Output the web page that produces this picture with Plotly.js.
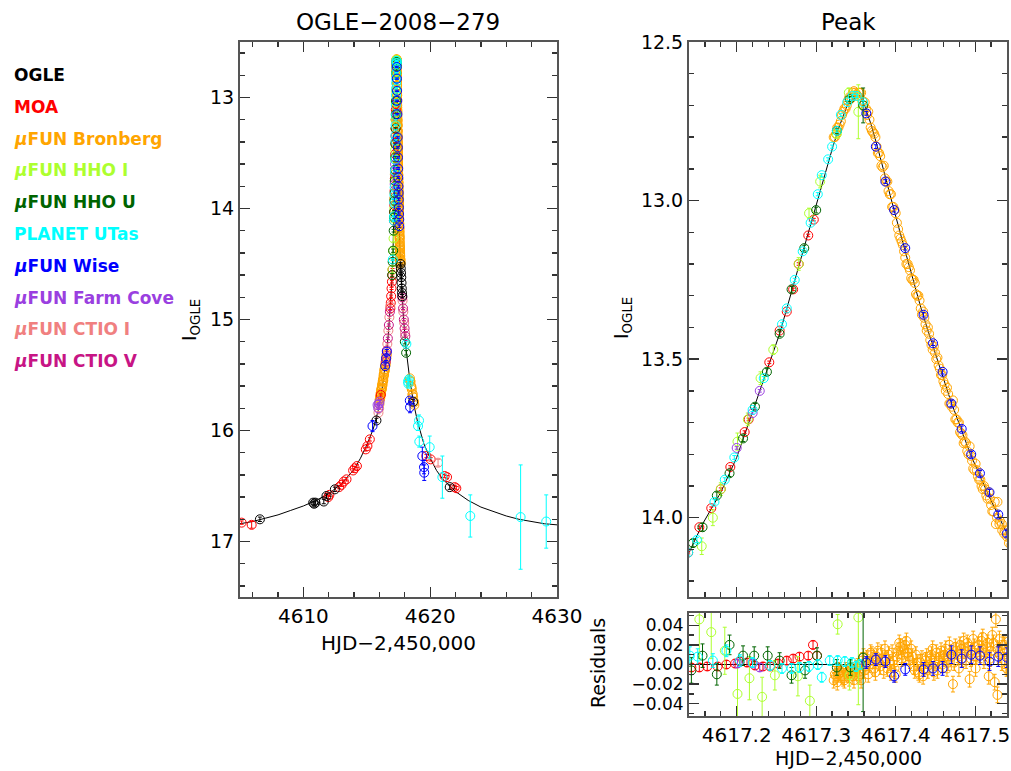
<!DOCTYPE html>
<html>
<head>
<meta charset="utf-8">
<script src="https://cdn.plot.ly/plotly-3.0.1.min.js"></script>
<style>html,body{margin:0;padding:0;background:#fff;}#chart{width:1011px;height:771px;}</style>
</head>
<body>
<div id="chart"></div>
<script>
// ---------------- DATA ----------------
// Model light curve
const model_t = [4605.0,4606.0,4607.0,4608.0,4609.0,4610.0,4611.0,4612.0,4613.0,4614.0,4614.5,4615.0,4615.5,4615.9,4616.2,4616.5,4616.7,4616.85,4616.95,4617.05,4617.10,4617.14,4617.157,4617.18,4617.20,4617.229,4617.254,4617.28,4617.298,4617.31,4617.321,4617.33,4617.339,4617.349,4617.355,4617.361,4617.369,4617.377,4617.389,4617.399,4617.412,4617.433,4617.447,4617.469,4617.494,4617.517,4617.540,4617.58,4617.65,4617.75,4617.9,4618.1,4618.4,4618.7,4619.0,4619.5,4620.0,4620.5,4621.0,4622.0,4623.0,4624.0,4625.0,4626.0,4627.0,4628.0,4629.0,4630.0];
const model_mag = [16.84,16.82,16.79,16.76,16.72,16.68,16.63,16.57,16.48,16.35,16.25,16.13,15.99,15.82,15.63,15.37,15.13,14.90,14.71,14.47,14.27,14.11,14.02,13.92,13.81,13.60,13.42,13.19,13.03,12.92,12.83,12.76,12.70,12.67,12.67,12.70,12.76,12.83,12.94,13.04,13.16,13.35,13.46,13.63,13.80,13.93,14.05,14.24,14.48,14.74,15.00,15.27,15.55,15.76,15.92,16.12,16.25,16.36,16.44,16.55,16.63,16.69,16.73,16.77,16.80,16.82,16.84,16.85];
const resid_zero_t = [4617.0, 4618.0];
const resid_zero = [0, 0];

// OGLE
const ogle_t = [4606.57,4610.77,4610.85,4610.95,4611.61,4611.82,4612.48,4615.76,4617.66,4617.68,4617.70,4617.72,4617.74,4617.76,4617.78,4617.80,4618.65,4621.54];
const ogle_mag = [16.80,16.65,16.66,16.65,16.64,16.59,16.53,15.91,14.50,14.54,14.58,14.62,14.67,14.72,14.76,14.79,15.74,16.51];
const ogle_err = [0.02,0.015,0.015,0.015,0.02,0.02,0.02,0.02,0.015,0.015,0.015,0.015,0.015,0.015,0.015,0.015,0.02,0.02];

// MOA
const moa_t = [4605.13,4605.92,4611.96,4612.05,4612.82,4613.00,4613.19,4613.40,4613.92,4614.05,4614.22,4614.92,4615.05,4615.24,4616.10,4616.86,4616.89,4616.92,4616.95,4616.98,4617.01,4617.03,4617.139,4617.153,4617.168,4617.180,4617.192,4617.210,4617.215,4617.241,4617.254,4617.263,4617.271,4617.278,4617.290,4617.297,4619.70,4620.04,4621.14,4621.33,4621.93,4622.06];
const moa_mag = [16.83,16.85,16.60,16.58,16.51,16.49,16.46,16.44,16.36,16.34,16.32,16.17,16.14,16.08,15.68,14.90,14.85,14.79,14.72,14.66,14.60,14.55,14.11,14.03,13.97,13.91,13.84,13.73,13.69,13.51,13.41,13.35,13.28,13.20,13.11,13.06,16.23,16.26,16.41,16.42,16.51,16.52];
const moa_err = [0.015,0.03,0.015,0.015,0.015,0.015,0.015,0.015,0.015,0.015,0.015,0.015,0.015,0.015,0.01,0.01,0.01,0.01,0.01,0.01,0.01,0.01,0.004,0.004,0.004,0.004,0.004,0.004,0.004,0.004,0.004,0.004,0.004,0.004,0.004,0.004,0.015,0.015,0.015,0.015,0.015,0.015];
const moa_rt = [4617.143,4617.153,4617.163,4617.176,4617.187,4617.198,4617.204,4617.213,4617.223,4617.233,4617.242,4617.252,4617.263,4617.271,4617.279,4617.290,4617.296,4617.301];
const moa_res = [-0.003,-0.003,-0.002,-0.002,0.000,0.001,0.003,0.002,-0.001,-0.002,-0.002,0.001,0.004,0.006,0.008,0.009,0.020,0.009];
const moa_rerr = [0.004,0.004,0.004,0.004,0.004,0.004,0.004,0.004,0.004,0.004,0.004,0.004,0.004,0.004,0.004,0.004,0.004,0.004];

// muFUN Bronberg (first set)
const bron_t = [4616.00,4616.03,4616.06,4616.09,4616.12,4616.15,4616.18,4616.21,4616.24,4616.27,4616.30,4616.33,4616.36,4616.39,4616.42,4616.45,4616.48,4616.51,4616.54,4616.57,
4617.322,4617.325,4617.328,4617.331,4617.334,4617.337,4617.340,4617.343,4617.346,4617.349,4617.352,4617.355,4617.358,4617.361,4617.364,4617.367,4617.370,4617.373,4617.376,4617.379,4617.382,4617.385,4617.388,4617.391,4617.394,4617.397,4617.400,4617.403,4617.406,4617.409,4617.412,4617.415,4617.418,4617.421,4617.424,4617.427,4617.430,4617.433,4617.436,4617.439,4617.442,4617.445,4617.448,4617.451,4617.454,4617.457,4617.460,4617.463,4617.466,4617.469,4617.472,4617.475,4617.478,4617.481,4617.484,4617.487,4617.490,4617.493,4617.496,4617.499,4617.502,4617.505,4617.508,4617.511,4617.514,4617.517,4617.520,4617.523,4617.526,4617.528,4617.531,4617.534,4617.537,4617.540,4617.543,
4617.548,4617.552,4617.556,4617.560,4617.564,4617.568,4617.572,4617.576,4617.580,4617.585,4617.590,4617.595,4617.600,4617.605,4617.610,4617.615,4617.620,4617.625,4617.630,4617.635,4617.640,4617.645,4617.650,4617.655,4617.660,
4618.40,4618.45,4618.50,4618.55,4618.60,4618.65,4618.70,4618.75];
const bron_mag = [15.76,15.72,15.71,15.67,15.67,15.63,15.63,15.59,15.59,15.55,15.55,15.50,15.50,15.45,15.46,15.41,15.41,15.36,15.35,15.31,
12.80,12.79,12.77,12.75,12.72,12.71,12.685,12.68,12.66,12.66,12.67,12.66,12.685,12.69,12.73,12.745,12.78,12.79,12.83,12.85,12.89,12.89,12.94,12.97,12.98,13.02,13.04,13.09,13.12,13.14,13.18,13.20,13.22,13.25,13.26,13.30,13.315,13.36,13.37,13.41,13.42,13.455,13.46,13.50,13.52,13.55,13.57,13.60,13.61,13.64,13.63,13.69,13.70,13.73,13.74,13.76,13.79,13.775,13.82,13.85,13.85,13.88,13.90,13.90,13.93,13.92,13.96,13.98,14.02,13.95,14.01,14.04,14.04,14.06,14.06,
14.09,14.10,14.13,14.14,14.17,14.18,14.21,14.22,14.24,14.26,14.28,14.30,14.31,14.34,14.35,14.37,14.38,14.40,14.42,14.43,14.45,14.46,14.48,14.49,14.50,
15.53,15.56,15.60,15.63,15.68,15.70,15.75,15.77];
const bron_rt = [4617.322,4617.325,4617.328,4617.331,4617.334,4617.337,4617.340,4617.343,4617.346,4617.349,4617.352,4617.355,4617.358,4617.361,4617.364,4617.367,4617.370,4617.373,4617.376,4617.379,4617.382,4617.385,4617.388,4617.391,4617.394,4617.397,4617.400,4617.403,4617.406,4617.409,4617.412,4617.415,4617.418,4617.421,4617.424,4617.427,4617.430,4617.433,4617.436,4617.439,4617.442,4617.445,4617.448,4617.451,4617.454,4617.457,4617.460,4617.463,4617.466,4617.469,4617.472,4617.475,4617.478,4617.481,4617.484,4617.487,4617.490,4617.493,4617.496,4617.499,4617.502,4617.505,4617.508,4617.511,4617.514,4617.517,4617.520,4617.523,4617.526,4617.528,4617.531,4617.534,4617.537,4617.540,4617.543];
const bron_res = [-0.016,-0.012,-0.010,-0.008,-0.014,-0.006,-0.010,-0.004,-0.012,-0.008,-0.002,-0.010,0.004,-0.006,0.006,0.000,0.010,-0.004,0.008,0.002,0.012,-0.006,0.006,0.010,-0.008,0.004,-0.010,0.014,0.018,0.010,0.020,0.012,0.004,0.008,-0.006,0.002,-0.010,0.006,-0.004,0.008,0.000,0.010,-0.008,0.012,0.004,0.014,0.006,0.016,0.002,0.012,-0.020,0.018,0.010,0.020,0.006,0.014,0.022,-0.015,0.012,0.018,0.008,0.016,0.024,0.004,0.018,-0.012,0.014,0.022,0.046,-0.031,0.010,0.020,0.004,0.014,-0.008];

// muFUN Bronberg (second, interleaved set)
const bron2_t = [4616.015,4616.045,4616.075,4616.105,4616.135,4616.165,4616.195,4616.225,4616.255,4616.285,4616.315,4616.345,4616.375,4616.405,4616.435,4616.465,4616.495,4616.525,4616.555,
4617.3235,4617.3265,4617.3295,4617.3325,4617.3355,4617.3385,4617.3415,4617.3445,4617.3475,4617.3505,4617.3535,4617.3565,4617.3595,4617.3625,4617.3655,4617.3685,4617.3715,4617.3745,4617.3775,4617.3805,4617.3835,4617.3865,4617.3895,4617.3925,4617.3955,4617.3985,4617.4015,4617.4045,4617.4075,4617.4105,4617.4135,4617.4165,4617.4195,4617.4225,4617.4255,4617.4285,4617.4315,4617.4345,4617.4375,4617.4405,4617.4435,4617.4465,4617.4495,4617.4525,4617.4555,4617.4585,4617.4615,4617.4645,4617.4675,4617.4705,4617.4735,4617.4765,4617.4795,4617.4825,4617.4855,4617.4885,4617.4915,4617.4945,4617.4975,4617.5005,4617.5035,4617.5065,4617.5095,4617.5125,4617.5155,4617.5185,4617.5215,4617.5245,4617.5275,4617.5305,4617.5335,4617.5365,4617.5395,4617.5425,4617.5455,
4617.550,4617.558,4617.566,4617.574,4617.582,4617.592,4617.602,4617.612,4617.622,4617.632,4617.642,4617.652,
4618.42,4618.52,4618.62,4618.72];
const bron2_mag = [15.72,15.70,15.69,15.66,15.64,15.62,15.61,15.58,15.56,15.54,15.52,15.49,15.47,15.45,15.42,15.40,15.38,15.35,15.32,
12.80,12.77,12.76,12.73,12.71,12.70,12.675,12.675,12.655,12.665,12.66,12.66,12.70,12.71,12.72,12.77,12.785,12.80,12.85,12.86,12.895,12.93,12.94,12.98,13.02,13.03,13.07,13.11,13.13,13.16,13.20,13.21,13.245,13.25,13.295,13.30,13.34,13.35,13.39,13.40,13.44,13.47,13.48,13.495,13.53,13.55,13.58,13.59,13.64,13.65,13.66,13.69,13.70,13.735,13.765,13.765,13.80,13.805,13.845,13.83,13.87,13.88,13.91,13.91,13.94,13.94,13.98,13.95,14.00,14.02,14.02,14.05,14.04,14.08,14.085,
14.11,14.14,14.18,14.20,14.25,14.27,14.33,14.36,14.40,14.41,14.46,14.47,
15.55,15.61,15.67,15.74];
const bron2_rt = [4617.3235,4617.3265,4617.3295,4617.3325,4617.3355,4617.3385,4617.3415,4617.3445,4617.3475,4617.3505,4617.3535,4617.3565,4617.3595,4617.3625,4617.3655,4617.3685,4617.3715,4617.3745,4617.3775,4617.3805,4617.3835,4617.3865,4617.3895,4617.3925,4617.3955,4617.3985,4617.4015,4617.4045,4617.4075,4617.4105,4617.4135,4617.4165,4617.4195,4617.4225,4617.4255,4617.4285,4617.4315,4617.4345,4617.4375,4617.4405,4617.4435,4617.4465,4617.4495,4617.4525,4617.4555,4617.4585,4617.4615,4617.4645,4617.4675,4617.4705,4617.4735,4617.4765,4617.4795,4617.4825,4617.4855,4617.4885,4617.4915,4617.4945,4617.4975,4617.5005,4617.5035,4617.5065,4617.5095,4617.5125,4617.5155,4617.5185,4617.5215,4617.5245,4617.5275,4617.5305,4617.5335,4617.5365,4617.5395,4617.5425,4617.5455];
const bron2_res = [-0.010,-0.018,-0.006,-0.012,-0.016,-0.008,-0.014,-0.006,-0.016,-0.004,-0.012,-0.016,0.008,-0.002,-0.010,0.012,0.004,-0.008,0.014,-0.002,0.006,0.016,-0.004,0.002,0.012,-0.004,0.008,0.022,0.006,0.016,0.024,0.008,0.016,-0.002,0.010,-0.008,0.002,-0.012,0.004,-0.006,0.006,0.016,0.002,-0.006,0.008,0.000,0.010,-0.004,0.020,0.008,0.002,0.014,-0.004,0.016,0.024,0.004,0.018,0.006,0.026,-0.004,0.020,0.010,0.028,0.012,0.022,0.006,0.030,-0.018,0.016,0.026,0.002,0.020,-0.004,0.024,0.010];

// muFUN HHO I
const hhoi_t = [4617.02,4617.07,4617.11,4617.156,4617.170,4617.180,4617.201,4617.214,4617.230,4617.246,4617.278,4617.291,4617.305,4617.326,4617.341,4617.353];
const hhoi_mag = [14.55,14.38,14.27,14.09,14.00,13.91,13.76,13.69,13.56,13.47,13.20,13.04,12.94,12.79,12.66,12.72];
const hhoi_err = [0.03,0.03,0.03,0.026,0.025,0.02,0.027,0.02,0.02,0.015,0.02,0.016,0.02,0.01,0.015,0.085];
const hhoi_rt = [4617.153,4617.168,4617.185,4617.201,4617.216,4617.232,4617.248,4617.277,4617.292,4617.327,4617.342,4617.353];
const hhoi_res = [0.046,0.033,0.014,-0.030,-0.014,-0.033,-0.011,-0.012,-0.037,0.041,-0.011,0.048];
const hhoi_rerr = [0.04,0.027,0.024,0.027,0.022,0.02,0.015,0.02,0.016,0.01,0.015,0.089];

// muFUN HHO U
const hhou_t = [4617.00,4617.04,4617.08,4617.12,4617.145,4617.157,4617.175,4617.191,4617.208,4617.223,4617.238,4617.254,4617.269,4617.285,4617.300,4617.326,4617.342,4617.359,4618.00,4618.10];
const hhou_mag = [14.60,14.48,14.38,14.20,14.08,14.03,13.93,13.86,13.75,13.65,13.54,13.42,13.28,13.15,13.03,12.78,12.68,12.70,15.20,15.30];
const hhou_err = [0.015,0.015,0.015,0.012,0.012,0.012,0.011,0.01,0.01,0.01,0.01,0.009,0.009,0.009,0.009,0.008,0.008,0.055,0.02,0.02];
const hhou_rt = [4617.143,4617.157,4617.175,4617.191,4617.208,4617.222,4617.239,4617.254,4617.269,4617.286,4617.301,4617.326,4617.343,4617.359];
const hhou_res = [-0.006,0.009,-0.010,0.020,0.009,0.009,0.009,0.004,-0.011,-0.006,0.009,-0.003,-0.003,0.007];
const hhou_rerr = [0.013,0.012,0.011,0.01,0.01,0.009,0.009,0.008,0.008,0.008,0.008,0.008,0.008,0.055];

// PLANET UTas
const utas_t = [4617.05,4617.139,4617.150,4617.172,4617.185,4617.197,4617.220,4617.234,4617.257,4617.263,4617.273,4617.283,4617.293,4617.302,4617.307,4617.315,4617.320,4617.326,4617.331,4617.339,4617.346,4617.351,4617.359,4618.12,4618.25,4618.28,4618.31,4619.04,4619.12,4619.14,4619.96,4620.96,4623.16,4627.13,4629.15];
const utas_mag = [14.46,14.11,14.07,13.95,13.88,13.81,13.66,13.56,13.39,13.34,13.25,13.16,13.07,12.98,12.92,12.87,12.83,12.78,12.73,12.69,12.67,12.67,12.69,15.22,15.56,15.58,15.54,15.96,15.91,16.10,16.15,16.42,16.77,16.78,16.82];
const utas_err = [0.01,0.008,0.008,0.007,0.006,0.006,0.005,0.005,0.005,0.005,0.005,0.005,0.005,0.005,0.005,0.005,0.005,0.005,0.005,0.005,0.005,0.005,0.005,0.02,0.03,0.03,0.03,0.04,0.05,0.05,0.10,0.19,0.19,0.47,0.24];
const utas_rt = [4617.141,4617.151,4617.170,4617.187,4617.204,4617.220,4617.242,4617.257,4617.269,4617.279,4617.291,4617.302,4617.307,4617.317,4617.327,4617.336,4617.345,4617.350,4617.355];
const utas_res = [0.009,0.008,0.004,0.014,0.004,0.002,-0.001,-0.004,-0.004,-0.003,-0.002,0.000,-0.013,0.004,0.004,0.003,0.002,-0.002,0.000];
const utas_rerr = [0.009,0.008,0.007,0.006,0.006,0.005,0.005,0.005,0.005,0.005,0.005,0.005,0.005,0.005,0.005,0.005,0.005,0.005,0.005];

// muFUN Wise
const wise_t = [4615.45,4616.45,4616.52,4616.58,4617.363,4617.375,4617.387,4617.398,4617.412,4617.435,4617.447,4617.459,4617.470,4617.483,4617.495,4617.506,4617.518,4617.529,4617.540,4617.552,4617.564,4618.39,4618.41,4619.38,4619.51,4619.53];
const wise_mag = [15.96,15.42,15.35,15.29,12.725,12.83,12.94,13.03,13.15,13.36,13.45,13.54,13.64,13.72,13.80,13.86,13.92,13.99,14.05,14.10,14.16,15.73,15.79,16.23,16.33,16.38];
const wise_err = [0.05,0.02,0.02,0.02,0.006,0.006,0.006,0.006,0.006,0.007,0.007,0.007,0.009,0.009,0.009,0.009,0.009,0.01,0.01,0.01,0.01,0.02,0.05,0.08,0.06,0.07];
const wise_rt = [4617.363,4617.375,4617.387,4617.398,4617.412,4617.435,4617.447,4617.459,4617.470,4617.483,4617.495,4617.506,4617.518,4617.529,4617.540];
const wise_res = [0.002,0.005,0.003,-0.012,-0.005,-0.005,-0.004,-0.004,0.010,0.006,0.010,0.009,0.003,0.008,0.007];
const wise_rerr = [0.006,0.006,0.006,0.006,0.006,0.007,0.007,0.007,0.009,0.009,0.009,0.009,0.009,0.01,0.01];

// muFUN Farm Cove
const farm_t = [4615.85,4615.90,4615.95,4616.00,4617.200,4617.220,4617.229];
const farm_mag = [15.77,15.80,15.76,15.74,13.78,13.67,13.60];
const farm_err = [0.01,0.01,0.01,0.01,0.004,0.004,0.004];
const farm_rt = [4617.201,4617.220,4617.229];
const farm_res = [0.001,0.001,-0.003];
const farm_rerr = [0.004,0.004,0.004];

// muFUN CTIO I
const ctioi_t = [4615.92,4615.97,4616.55,4616.62,4616.70,4616.78,4616.85,4617.82,4617.88,4617.95,4618.02,4620.62];
const ctioi_mag = [15.84,15.80,15.33,15.22,15.10,14.98,14.88,14.83,14.93,15.03,15.12,16.29];
const ctioi_err = [0.01,0.01,0.01,0.01,0.01,0.01,0.01,0.01,0.01,0.01,0.01,0.03];

// muFUN CTIO V
const ctiov_t = [4616.50,4616.58,4616.66,4616.74,4616.82,4617.80,4617.86,4617.92,4617.98,4618.04];
const ctiov_mag = [15.38,15.28,15.17,15.05,14.93,14.80,14.90,15.00,15.08,15.15];
const ctiov_err = [0.01,0.01,0.01,0.01,0.01,0.01,0.01,0.01,0.01,0.01];

// tick values
const leftXTicks = [4610, 4620, 4630];
const leftYTicks = [13, 14, 15, 16, 17];
const peakYTicks = [12.5, 13.0, 13.5, 14.0];
const peakXTicks = [4617.2, 4617.3, 4617.4, 4617.5];
const residYTicks = [-0.04, -0.02, 0.00, 0.02, 0.04];

// ---------------- STYLE ----------------
const FONT = 'DejaVu Sans';
const series = [
  {name:'μFUN Bronberg', legend:'<i>μ</i>FUN Bronberg', color:'#FFA500', t:bron_t.concat(bron2_t), m:bron_mag.concat(bron2_mag), e:null, rt:bron_rt.concat(bron2_rt), r:bron_res.concat(bron2_res), re:null, legendIdx:2},
  {name:'MOA', legend:'MOA', color:'#FF0000', t:moa_t, m:moa_mag, e:moa_err, rt:moa_rt, r:moa_res, re:moa_rerr, legendIdx:1},
  {name:'μFUN HHO I', legend:'<i>μ</i>FUN HHO I', color:'#ADFF2F', t:hhoi_t, m:hhoi_mag, e:hhoi_err, rt:hhoi_rt, r:hhoi_res, re:hhoi_rerr, legendIdx:3},
  {name:'μFUN HHO U', legend:'<i>μ</i>FUN HHO U', color:'#006400', t:hhou_t, m:hhou_mag, e:hhou_err, rt:hhou_rt, r:hhou_res, re:hhou_rerr, legendIdx:4},
  {name:'μFUN CTIO I', legend:'<i>μ</i>FUN CTIO I', color:'#F08080', t:ctioi_t, m:ctioi_mag, e:ctioi_err, legendIdx:8},
  {name:'μFUN CTIO V', legend:'<i>μ</i>FUN CTIO V', color:'#C71585', t:ctiov_t, m:ctiov_mag, e:ctiov_err, legendIdx:9},
  {name:'μFUN Farm Cove', legend:'<i>μ</i>FUN Farm Cove', color:'#9A3FE0', t:farm_t, m:farm_mag, e:farm_err, rt:farm_rt, r:farm_res, re:farm_rerr, legendIdx:7},
  {name:'OGLE', legend:'OGLE', color:'#000000', t:ogle_t, m:ogle_mag, e:ogle_err, legendIdx:0},
  {name:'PLANET UTas', legend:'PLANET UTas', color:'#00FFFF', t:utas_t, m:utas_mag, e:utas_err, rt:utas_rt, r:utas_res, re:utas_rerr, legendIdx:5},
  {name:'μFUN Wise', legend:'<i>μ</i>FUN Wise', color:'#0000FF', t:wise_t, m:wise_mag, e:wise_err, rt:wise_rt, r:wise_res, re:wise_rerr, legendIdx:6}
];

const traces = [];
function modelTrace(xa, ya, x, y) {
  return {x:x, y:y, xaxis:xa, yaxis:ya, mode:'lines', line:{color:'#000', width:1}, showlegend:false, hoverinfo:'skip'};
}
traces.push(modelTrace('x','y',model_t,model_mag));
traces.push(modelTrace('x2','y2',model_t,model_mag));
traces.push(modelTrace('x3','y3',resid_zero_t,resid_zero));

function dataTrace(s, xa, ya, x, y, e) {
  const tr = {x:x, y:y, xaxis:xa, yaxis:ya, mode:'markers', name:s.name, showlegend:false,
    marker:{symbol:'circle-open', size:9, color:s.color, line:{width:1, color:s.color}}};
  if (e) tr.error_y = {type:'data', array:e, visible:true, color:s.color, thickness:1, width:2};
  return tr;
}
series.forEach(s => {
  traces.push(dataTrace(s,'x','y',s.t,s.m,s.e));
  traces.push(dataTrace(s,'x2','y2',s.t,s.m,s.e));
});
series.forEach(s => {
  if (s.rt) traces.push(dataTrace(s,'x3','y3',s.rt,s.r,s.re || s.r.map(()=>0.008)));
});

const W = 1011, H = 771;
const px = v => v / W;
const py = v => 1 - v / H;

const axCommon = {showgrid:false, zeroline:false, showline:true, linecolor:'#555', linewidth:2, mirror:'allticks',
  ticks:'inside', ticklen:10, tickwidth:1.3, tickcolor:'#333', tickfont:{family:FONT, size:19, color:'#000'}};

const layout = {
  width:W, height:H, margin:{l:0, r:0, t:0, b:0}, paper_bgcolor:'#fff', plot_bgcolor:'#fff',
  font:{family:FONT, color:'#000'},
  showlegend:false,
  xaxis: Object.assign({}, axCommon, {domain:[px(240), px(557)], range:[4605, 4630], anchor:'y',
    tickmode:'array', tickvals:leftXTicks, ticktext:leftXTicks.map(String), tickfont:{family:FONT, size:20, color:'#000'},
    minor:{dtick:2, tick0:4600, ticks:'inside', ticklen:5, tickcolor:'#333', showgrid:false}}),
  yaxis: Object.assign({}, axCommon, {domain:[1-597/H, 1-42/H], range:[17.5, 12.5], anchor:'x',
    tickmode:'array', tickvals:leftYTicks, ticktext:leftYTicks.map(String),
    minor:{dtick:0.2, tick0:12, ticks:'inside', ticklen:5, tickcolor:'#333', showgrid:false}}),
  xaxis2: Object.assign({}, axCommon, {domain:[px(689), px(1007)], range:[4617.14, 4617.54], anchor:'y2',
    tickmode:'array', tickvals:peakXTicks, showticklabels:false,
    minor:{dtick:0.02, tick0:4617, ticks:'inside', ticklen:5, tickcolor:'#333', showgrid:false}}),
  yaxis2: Object.assign({}, axCommon, {domain:[1-597/H, 1-42/H], range:[14.25, 12.5], anchor:'x2',
    tickmode:'array', tickvals:peakYTicks, ticktext:peakYTicks.map(v=>v.toFixed(1)),
    minor:{dtick:0.1, tick0:12, ticks:'inside', ticklen:5, tickcolor:'#333', showgrid:false}}),
  xaxis3: Object.assign({}, axCommon, {domain:[px(689), px(1007)], range:[4617.14, 4617.54], anchor:'y3',
    tickmode:'array', tickvals:peakXTicks, ticktext:peakXTicks.map(v=>v.toFixed(1)), tickfont:{family:FONT, size:20, color:'#000'},
    minor:{dtick:0.02, tick0:4617, ticks:'inside', ticklen:5, tickcolor:'#333', showgrid:false}}),
  yaxis3: Object.assign({}, axCommon, {domain:[1-716/H, 1-613/H], range:[-0.0525, 0.0525], anchor:'x3',
    tickmode:'array', tickvals:residYTicks, ticktext:residYTicks.map(v=>(v<0?'−':'')+Math.abs(v).toFixed(2)),
    tickfont:{family:FONT, size:17, color:'#000'},
    minor:{dtick:0.01, tick0:0, ticks:'inside', ticklen:5, tickcolor:'#333', showgrid:false}}),
  annotations: []
};

function ann(text, x, y, opts) {
  return Object.assign({text:text, xref:'paper', yref:'paper', x:px(x), y:py(y), showarrow:false,
    xanchor:'center', yanchor:'middle', font:{family:FONT, size:19, color:'#000'}}, opts||{});
}
layout.annotations.push(ann('OGLE−2008−279', 398, 22, {font:{family:FONT, size:23, color:'#000'}}));
layout.annotations.push(ann('Peak', 848, 22, {font:{family:FONT, size:23, color:'#000'}}));
layout.annotations.push(ann('HJD−2,450,000', 398, 643, {font:{family:FONT, size:20, color:'#000'}}));
layout.annotations.push(ann('HJD−2,450,000', 848, 758, {font:{family:FONT, size:19, color:'#000'}}));
layout.annotations.push(ann('I<sub>OGLE</sub>', 190, 320, {textangle:-90}));
layout.annotations.push(ann('I<sub>OGLE</sub>', 622, 318, {textangle:-90}));
layout.annotations.push(ann('Residuals', 598, 663, {textangle:-90}));

series.forEach(s => {
  layout.annotations.push(ann('<b>'+s.legend+'</b>', 12, 75 + s.legendIdx*31.8,
    {xanchor:'left', font:{family:FONT, size:17, color:s.color}}));
});

Plotly.newPlot('chart', traces, layout, {staticPlot:true, displayModeBar:false});
</script>
</body>
</html>
